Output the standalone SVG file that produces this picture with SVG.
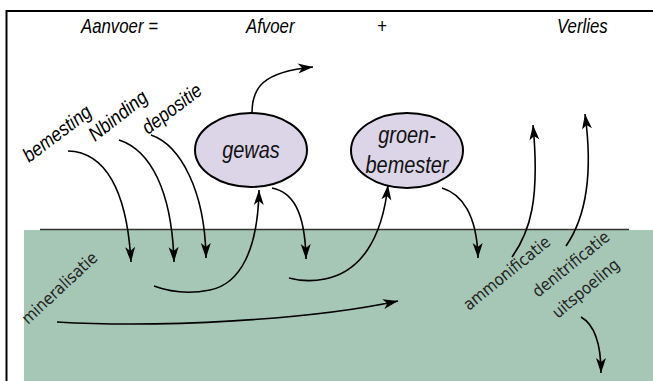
<svg xmlns="http://www.w3.org/2000/svg" width="653" height="381" viewBox="0 0 653 381">
<style>
.hdr{font-family:"Liberation Sans",Arial,sans-serif;font-style:italic;font-size:20px;fill:#000}
.lbl{font-family:"Liberation Sans",Arial,sans-serif;font-style:italic;font-size:20px;fill:#000}
.nd{font-family:"Liberation Sans",Arial,sans-serif;font-style:italic;font-size:24px;fill:#111;text-anchor:middle}
.soil{font-family:"DejaVu Sans Condensed","DejaVu Sans",sans-serif;font-stretch:condensed;font-size:16.5px;fill:#222}
.ell{fill:#dcd5e8;stroke:#000;stroke-width:2}
.arr{fill:none;stroke:#000;stroke-width:1.6;marker-end:url(#ah)}
</style>
<defs>
<marker id="ah" markerWidth="17" markerHeight="11" refX="16" refY="5.5" orient="auto" markerUnits="userSpaceOnUse" viewBox="0 0 17 11">
<path d="M16,5.5 L1,0.5 L5,5.5 L1,10.5 Z" fill="#000"/>
</marker>
</defs>
<rect width="653" height="381" fill="#fff"/>
<g id="frame">
<path d="M6.5,381 V11 H653" fill="none" stroke="#000" stroke-width="2"/>
</g>
<g id="soil">
<rect x="24" y="230" width="629" height="151" fill="#a6c6b6"/>
<line x1="40" y1="229.5" x2="629" y2="229.5" stroke="#333" stroke-width="1.6"/>
</g>
<g id="header">
<text class="hdr" transform="translate(81,33) scale(0.84,1)">Aanvoer =</text>
<text class="hdr" transform="translate(246,33) scale(0.84,1)">Afvoer</text>
<text class="hdr" transform="translate(377,33) scale(0.84,1)">+</text>
<text class="hdr" transform="translate(557,33) scale(0.84,1)">Verlies</text>
</g>
<g id="connectors">
<path class="arr" d="M68,151 C105,152 127,190 131,262"/>
<path class="arr" d="M119,140 C150,150 172,190 174,262"/>
<path class="arr" d="M151,135 C180,145 205,190 206,258"/>
<path class="arr" d="M154,286 C170,292 190,294 210,290 C240,284 258,250 259,190"/>
<path class="arr" d="M272,188 C292,192 305,210 306,259"/>
<path class="arr" d="M252,113 C252,88 262,72 313,67"/>
<path class="arr" d="M289,278 C300,281 310,282 325,279 C360,272 382,240 388,185"/>
<path class="arr" d="M442,188 C462,194 477,215 478,258"/>
<path class="arr" d="M512,257 C530,232 540,200 533,125"/>
<path class="arr" d="M566,246 C584,220 594,180 585,114"/>
<path class="arr" d="M57,322 C160,328 310,320 398,301"/>
<path class="arr" d="M581,317 C595,325 601,345 601,373"/>
</g>
<g id="gewas">
<ellipse class="ell" cx="251" cy="150" rx="56" ry="37"/>
<text class="nd" transform="translate(251,158) scale(0.83,1)">gewas</text>
</g>
<g id="groenbemester">
<ellipse class="ell" cx="407" cy="150.5" rx="56" ry="37.5"/>
<text class="nd" transform="translate(407,143) scale(0.83,1)">groen-</text>
<text class="nd" transform="translate(407,173) scale(0.83,1)">bemester</text>
</g>
<g id="labels">
<text class="lbl" transform="translate(29,163) rotate(-37) scale(0.87,1)">bemesting</text>
<text class="lbl" transform="translate(95,142) rotate(-38) scale(0.87,1)">Nbinding</text>
<text class="lbl" transform="translate(148,135) rotate(-37) scale(0.87,1)">depositie</text>
<text class="soil" transform="translate(28,325) rotate(-43)">mineralisatie</text>
<text class="soil" transform="translate(469,311) rotate(-39)">ammonificatie</text>
<text class="soil" transform="translate(538,298) rotate(-39)">denitrificatie</text>
<text class="soil" transform="translate(558,319) rotate(-40)">uitspoeling</text>
</g>
</svg>
